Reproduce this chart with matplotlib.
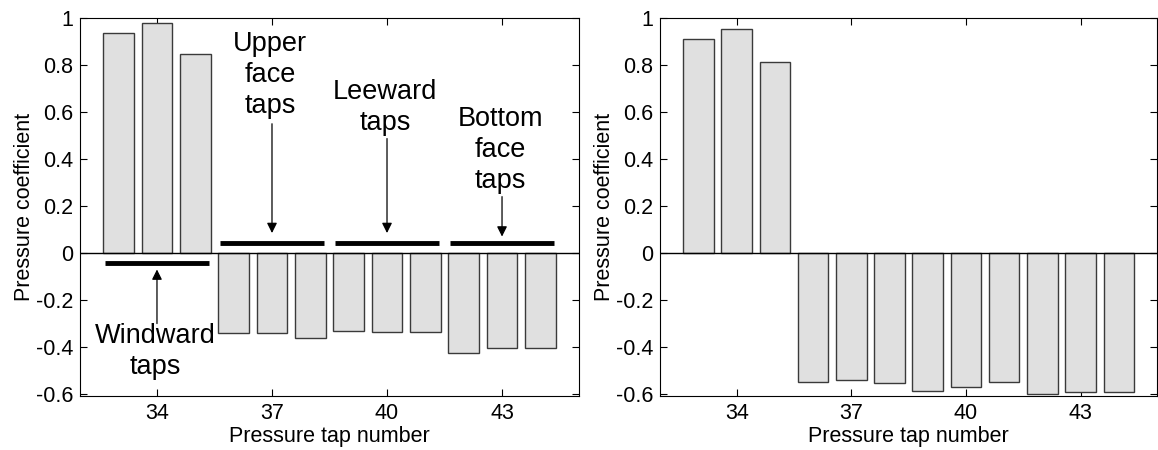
import matplotlib
matplotlib.use("Agg")
import matplotlib.pyplot as plt
from matplotlib.ticker import FuncFormatter

plt.rcParams['font.family'] = ['Liberation Sans', 'DejaVu Sans']

taps = [33, 34, 35, 36, 37, 38, 39, 40, 41, 42, 43, 44]
cp_left = [0.936, 0.977, 0.846, -0.342, -0.342, -0.362, -0.332, -0.336, -0.336, -0.424, -0.405, -0.405]
cp_right = [0.912, 0.952, 0.811, -0.547, -0.541, -0.555, -0.586, -0.572, -0.547, -0.600, -0.590, -0.590]
xticks = [34, 37, 40, 43]
yticks = [-0.6, -0.4, -0.2, 0, 0.2, 0.4, 0.6, 0.8, 1.0]

# group annotations
group_labels = ["Windward\ntaps", "Upper\nface\ntaps", "Leeward\ntaps", "Bottom\nface\ntaps"]
group_centers = [34, 37, 40, 43]
group_line_y = [-0.042, 0.042, 0.042, 0.042]
group_text_y = [-0.42, 0.756, 0.62, 0.44]
group_tip_y = [-0.07, 0.085, 0.085, 0.07]
group_tail_y = [-0.30, 0.55, 0.487, 0.24]

W, H = 1158, 450
fig = plt.figure(figsize=(W/100, H/100), dpi=100)
top_px, bot_px = 18, 396.4
ax1 = fig.add_axes([80.3/W, 1-bot_px/H, (578.7-80.3)/W, (bot_px-top_px)/H])
ax2 = fig.add_axes([660.3/W, 1-bot_px/H, (1157.0-660.3)/W, (bot_px-top_px)/H])

fmt = FuncFormatter(lambda v, p: ("%g" % round(v, 2)).replace("\u2212", "-"))

for ax, vals in [(ax1, cp_left), (ax2, cp_right)]:
    ax.bar(taps, vals, width=0.8, color='#e0e0e0', edgecolor='#3a3a3a', linewidth=1.0, zorder=2)
    ax.axhline(0, color='black', linewidth=1.0, zorder=3)
    ax.set_xlim(32, 45)
    ax.set_ylim(-0.61, 1.0)
    ax.set_xticks(xticks)
    ax.set_yticks(yticks)
    ax.yaxis.set_major_formatter(fmt)
    ax.tick_params(direction='in', top=True, right=True, length=5, width=0.8, labelsize=15.5, pad=5)
    ax.set_xlabel("Pressure tap number", fontsize=15.5, labelpad=1)
    ax.set_ylabel("Pressure coefficient", fontsize=15.5, labelpad=1)
    for s in ax.spines.values():
        s.set_linewidth(0.8)

for lab, c, ly, ty, tip, tail in zip(group_labels, group_centers, group_line_y, group_text_y, group_tip_y, group_tail_y):
    ax1.plot([c - 1.35, c + 1.35], [ly, ly], color='black', linewidth=3.5, solid_capstyle='butt', zorder=4)
    ax1.annotate("", xy=(c, tip), xytext=(c, tail),
                 arrowprops=dict(arrowstyle='-|>', color='black', lw=0.9, mutation_scale=15,
                                 shrinkA=0, shrinkB=0), zorder=4)
    ax1.text(c - 0.05, ty, lab, ha='center', va='center', fontsize=19.5, linespacing=1.25, zorder=5)

fig.savefig("out.png", dpi=100)
